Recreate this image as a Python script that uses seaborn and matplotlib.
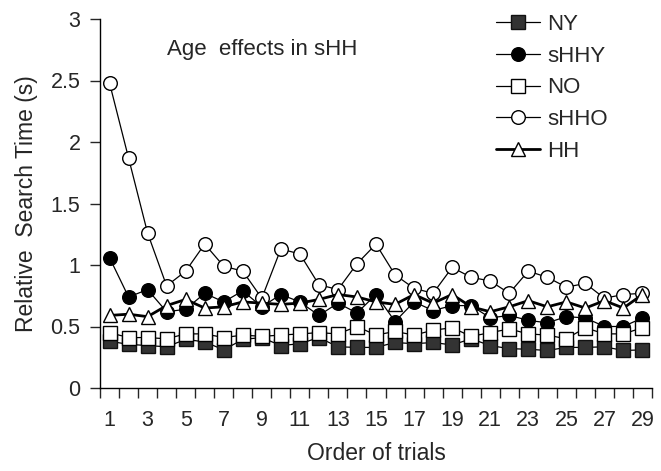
import matplotlib
matplotlib.use("Agg")
import matplotlib.pyplot as plt
from matplotlib.lines import Line2D
from matplotlib.ticker import FixedLocator, NullFormatter, FixedFormatter
import seaborn as sns
import pandas as pd
import numpy as np

trials = list(range(1, 30))

NY = [0.38, 0.355, 0.345, 0.335, 0.395, 0.375, 0.31, 0.395, 0.41, 0.345,
      0.36, 0.41, 0.335, 0.33, 0.33, 0.37, 0.36, 0.37, 0.35, 0.40,
      0.345, 0.32, 0.315, 0.305, 0.33, 0.33, 0.335, 0.305, 0.31]
sHHY = [1.06, 0.74, 0.80, 0.62, 0.64, 0.77, 0.70, 0.79, 0.66, 0.76,
        0.70, 0.59, 0.69, 0.61, 0.76, 0.54, 0.70, 0.63, 0.67, 0.67,
        0.57, 0.59, 0.55, 0.53, 0.58, 0.57, 0.50, 0.50, 0.57]
NO = [0.45, 0.41, 0.41, 0.40, 0.44, 0.44, 0.41, 0.43, 0.42, 0.43,
      0.44, 0.45, 0.44, 0.50, 0.43, 0.46, 0.43, 0.47, 0.49, 0.42,
      0.45, 0.48, 0.44, 0.43, 0.40, 0.49, 0.44, 0.44, 0.49]
sHHO = [2.48, 1.87, 1.26, 0.83, 0.95, 1.17, 0.99, 0.95, 0.73, 1.13,
        1.09, 0.84, 0.80, 1.01, 1.17, 0.92, 0.81, 0.77, 0.98, 0.90,
        0.87, 0.77, 0.95, 0.90, 0.82, 0.85, 0.73, 0.76, 0.77]
HH = [0.59, 0.60, 0.58, 0.67, 0.72, 0.65, 0.66, 0.70, 0.69, 0.68,
      0.69, 0.72, 0.76, 0.74, 0.70, 0.68, 0.76, 0.69, 0.76, 0.66,
      0.62, 0.66, 0.71, 0.66, 0.70, 0.65, 0.71, 0.65, 0.76]

series_names = ["NY", "sHHY", "NO", "sHHO", "HH"]
series_values = [NY, sHHY, NO, sHHO, HH]
x_tick_labels = [str(t) for t in range(1, 30, 2)]
y_ticks = [0, 0.5, 1, 1.5, 2, 2.5, 3]
y_tick_labels = ["0", "0.5", "1", "1.5", "2", "2.5", "3"]

sns.set_style("white")
plt.rcParams["font.family"] = ["Liberation Sans", "DejaVu Sans"]

styles = {
    "NY":   dict(marker="s", mfc="#333333", mec="#111111", lw=0.9, ms=9.6),
    "sHHY": dict(marker="o", mfc="black", mec="black", lw=0.9, ms=9.8),
    "NO":   dict(marker="s", mfc="white", mec="black", lw=0.9, ms=9.6),
    "sHHO": dict(marker="o", mfc="white", mec="black", lw=0.9, ms=9.8),
    "HH":   dict(marker="^", mfc="white", mec="black", lw=2.0, ms=9.8),
}

fig = plt.figure(figsize=(6.61, 4.71), dpi=100)
ax = fig.add_axes([100 / 661, 1 - 388 / 471, 552 / 661, 369 / 471])

df = pd.DataFrame({"trial": trials})
for name, vals in zip(series_names, series_values):
    df[name] = vals

handles = []
for name in series_names:
    st = styles[name]
    sns.lineplot(data=df, x="trial", y=name, ax=ax, color="black",
                 linewidth=st["lw"], marker=st["marker"],
                 markersize=st["ms"], markerfacecolor=st["mfc"],
                 markeredgecolor=st["mec"], markeredgewidth=1.0,
                 legend=False)
    handles.append(Line2D([], [], color="black", linewidth=st["lw"],
                          marker=st["marker"], markersize=st["ms"],
                          markerfacecolor=st["mfc"], markeredgecolor=st["mec"],
                          markeredgewidth=1.0))

ax.set_xlim(0.5, 29.5)
ax.set_ylim(0, 3)
ax.xaxis.set_major_locator(FixedLocator(np.arange(0.5, 30, 1)))
ax.xaxis.set_major_formatter(NullFormatter())
ax.xaxis.set_minor_locator(FixedLocator(list(range(1, 30, 2))))
ax.xaxis.set_minor_formatter(FixedFormatter(x_tick_labels))
ax.set_yticks(y_ticks)
ax.set_yticklabels(y_tick_labels)

ax.tick_params(axis="x", which="major", direction="out", length=7, width=1.0,
               bottom=True)
ax.tick_params(axis="x", which="minor", length=0, pad=16, labelsize=15.5,
               bottom=True)
ax.tick_params(axis="y", which="major", direction="out", length=7, width=1.0,
               pad=7, labelsize=15.5, left=True)

for s in ["top", "right"]:
    ax.spines[s].set_visible(False)
for s in ["left", "bottom"]:
    ax.spines[s].set_linewidth(1.0)
    ax.spines[s].set_color("black")

ax.set_xlabel("Order of trials", fontsize=16.5, labelpad=8)
ax.set_ylabel("Relative  Search Time (s)", fontsize=16.5, labelpad=9)

ax.text(167 / 661, 1 - 50 / 471, "Age  effects in sHH", transform=fig.transFigure,
        fontsize=16, va="center", ha="left")

fig.legend(handles, series_names, loc="upper left",
           bbox_to_anchor=(496 / 661, 1 - 14 / 471), frameon=False,
           fontsize=16, handlelength=2.0, handletextpad=0.3,
           labelspacing=0.48, borderpad=0, borderaxespad=0)

fig.savefig("out.png", dpi=100)
